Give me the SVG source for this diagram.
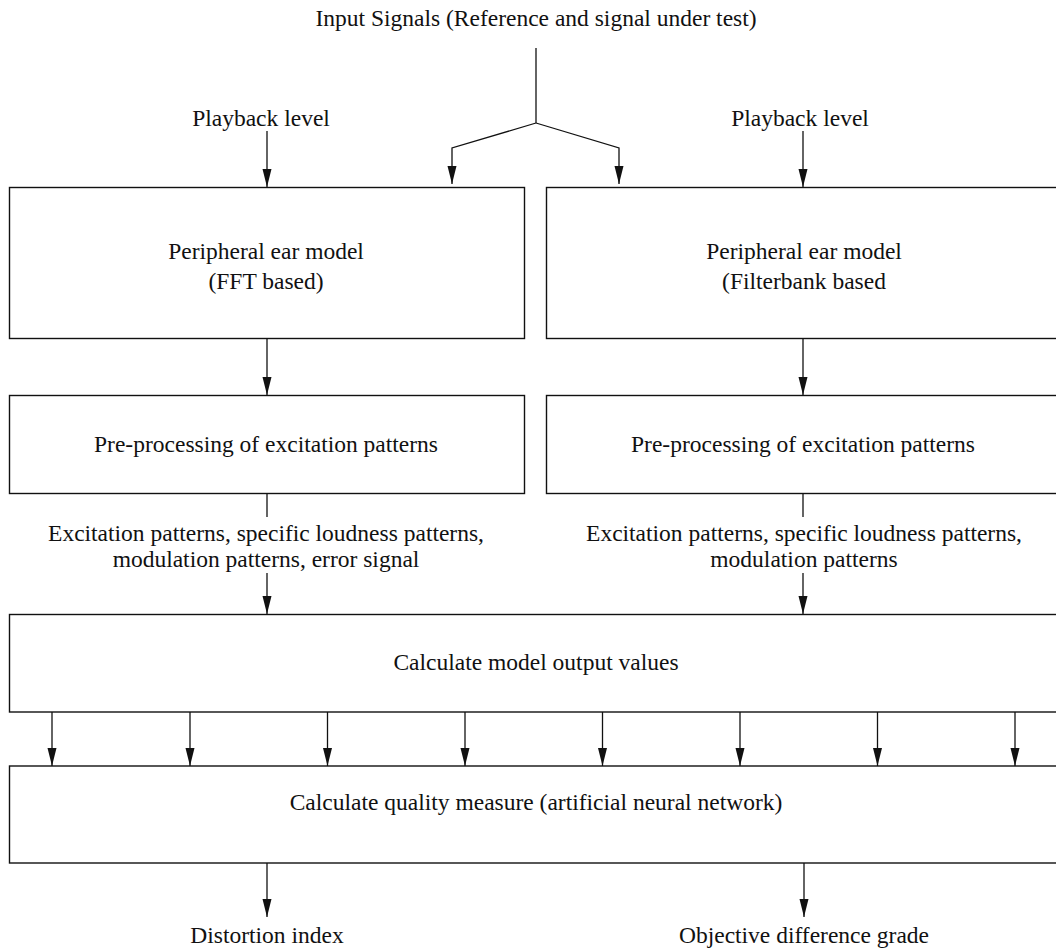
<svg xmlns="http://www.w3.org/2000/svg" width="1056" height="950" viewBox="0 0 1056 950">
<style>
text{font-family:"Liberation Serif","Times New Roman",serif;font-size:23.5px;fill:#111;text-anchor:middle}
.box{fill:#fff;stroke:#111;stroke-width:1.4}
.c{fill:none;stroke:#111;stroke-width:1.3}
.a{marker-end:url(#ah)}
</style>
<defs>
<marker id="ah" markerUnits="userSpaceOnUse" markerWidth="19" markerHeight="10" refX="18" refY="4.5" orient="auto">
<path d="M0,0 L18,4.5 L0,9 z" fill="#111"/>
</marker>
</defs>
<rect width="1056" height="950" fill="#fff"/>
<g id="labels">
<text x="536" y="26">Input Signals (Reference and signal under test)</text>
<text x="261" y="126">Playback level</text>
<text x="800" y="126">Playback level</text>
<text x="266" y="541">Excitation patterns, specific loudness patterns,</text>
<text x="266" y="567">modulation patterns, error signal</text>
<text x="804" y="541">Excitation patterns, specific loudness patterns,</text>
<text x="804" y="567">modulation patterns</text>
<text x="267" y="943">Distortion index</text>
<text x="804" y="943">Objective difference grade</text>
</g>
<g id="connectors">
<polyline class="c" points="536,48 536,123"/>
<polyline class="c a" points="536,123 452,148 452,184"/>
<polyline class="c a" points="536,123 619,148 619,184"/>
<line class="c a" x1="267" y1="131" x2="267" y2="187"/>
<line class="c a" x1="803" y1="131" x2="803" y2="187"/>
<line class="c a" x1="267" y1="339" x2="267" y2="395"/>
<line class="c a" x1="803" y1="339" x2="803" y2="395"/>
<line class="c" x1="267" y1="494" x2="267" y2="517"/>
<line class="c" x1="803" y1="494" x2="803" y2="517"/>
<line class="c a" x1="267" y1="573" x2="267" y2="614"/>
<line class="c a" x1="803" y1="573" x2="803" y2="614"/>
<line class="c a" x1="52" y1="712" x2="52" y2="766"/>
<line class="c a" x1="190" y1="712" x2="190" y2="766"/>
<line class="c a" x1="327.5" y1="712" x2="327.5" y2="766"/>
<line class="c a" x1="465" y1="712" x2="465" y2="766"/>
<line class="c a" x1="602.5" y1="712" x2="602.5" y2="766"/>
<line class="c a" x1="740" y1="712" x2="740" y2="766"/>
<line class="c a" x1="877.5" y1="712" x2="877.5" y2="766"/>
<line class="c a" x1="1015" y1="712" x2="1015" y2="766"/>
<line class="c a" x1="267" y1="863" x2="267" y2="917"/>
<line class="c a" x1="804" y1="863" x2="804" y2="917"/>
</g>
<g id="ear-fft">
<rect class="box" x="9.5" y="187.5" width="515" height="151"/>
<text x="266" y="259">Peripheral ear model</text>
<text x="266" y="289">(FFT based)</text>
</g>
<g id="ear-fb">
<rect class="box" x="546.5" y="187.5" width="530" height="151"/>
<text x="804" y="259">Peripheral ear model</text>
<text x="804" y="289">(Filterbank based</text>
</g>
<g id="pre-left">
<rect class="box" x="9.5" y="395.5" width="515" height="98"/>
<text x="266" y="452">Pre-processing of excitation patterns</text>
</g>
<g id="pre-right">
<rect class="box" x="546.5" y="395.5" width="530" height="98"/>
<text x="803" y="452">Pre-processing of excitation patterns</text>
</g>
<g id="model">
<rect class="box" x="9.5" y="614.5" width="1067" height="97.5"/>
<text x="536" y="670">Calculate model output values</text>
</g>
<g id="quality">
<rect class="box" x="9.5" y="766" width="1067" height="97"/>
<text x="536" y="810">Calculate quality measure (artificial neural network)</text>
</g>
</svg>
